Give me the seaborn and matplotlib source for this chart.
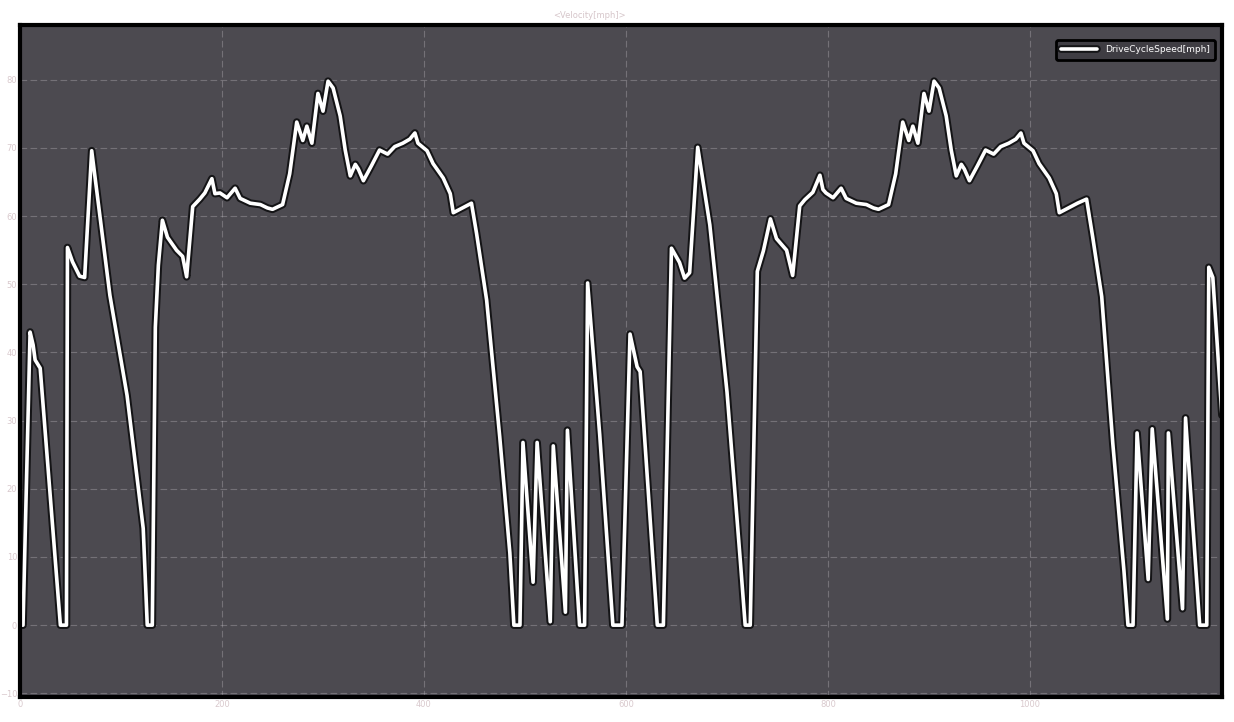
"""
Drive cycle speed trace (velocity in mph over time in seconds).
"""

import pandas as pd
import matplotlib.pyplot as plt
import matplotlib.patheffects as pe
import seaborn as sns

# time [s] and speed [mph]
time_s = [
    0, 3, 10, 13, 15, 20, 40, 46, 47, 52, 59, 64, 71, 89, 106, 122, 126, 131,
    134, 137, 141, 146, 155, 161, 165, 171, 178, 183, 190, 193, 198, 205, 213,
    218, 228, 238, 245, 250, 260, 267, 274, 280, 284, 289, 295, 300, 305, 310,
    317, 322, 327, 332, 335, 340, 348, 356, 364, 371, 379, 386, 391, 394, 403,
    409, 419, 426, 429, 447, 452, 462, 475, 485, 489, 495, 498, 508, 512, 525,
    528, 540, 542, 554, 559, 562, 574, 587, 596, 604, 611, 614, 631, 637, 645,
    653, 658, 663, 671, 683, 700, 713, 718, 723, 730, 736, 743, 749, 759, 765,
    772, 777, 785, 792, 795, 798, 805, 813, 818, 828, 838, 845, 850, 860, 867,
    874, 880, 884, 889, 895, 900, 905, 910, 917, 922, 927, 932, 935, 940, 948,
    956, 964, 971, 979, 986, 991, 994, 1003, 1009, 1019, 1026, 1029, 1047,
    1056, 1062, 1071, 1082, 1093, 1097, 1102, 1106, 1117, 1121, 1136, 1137,
    1151, 1154, 1168, 1175, 1177, 1181, 1190,
]
speed_mph = [
    0, 0, 43.0, 41.1, 38.9, 37.7, 0, 0, 55.4, 53.3, 51.2, 51.0, 69.6, 48.4,
    33.7, 14.2, 0, 0, 43.7, 52.8, 59.4, 56.9, 55.0, 54.1, 51.1, 61.4, 62.5,
    63.4, 65.5, 63.3, 63.4, 62.7, 64.1, 62.6, 61.9, 61.7, 61.2, 61.0, 61.7,
    66.2, 73.8, 71.1, 73.2, 70.7, 78.0, 75.4, 79.8, 78.8, 74.7, 69.7, 65.9,
    67.6, 66.9, 65.2, 67.4, 69.7, 69.1, 70.2, 70.7, 71.3, 72.2, 70.7, 69.6,
    67.7, 65.6, 63.3, 60.5, 61.9, 57.5, 47.7, 27.6, 10.6, 0, 0, 26.8, 6.3,
    26.8, 0.5, 26.3, 1.9, 28.6, 0, 0, 50.2, 27.9, 0, 0, 42.7, 37.9, 37.2, 0,
    0, 55.3, 53.2, 50.9, 51.7, 70.1, 58.7, 34.2, 9.8, 0, 0, 51.9, 54.9, 59.6,
    56.7, 55.0, 51.3, 61.5, 62.4, 63.5, 66.0, 63.9, 63.4, 62.7, 64.1, 62.6,
    61.9, 61.7, 61.2, 61.0, 61.7, 66.2, 73.8, 71.1, 73.2, 70.7, 78.0, 75.4,
    79.8, 78.8, 74.7, 69.7, 65.9, 67.6, 66.9, 65.2, 67.4, 69.7, 69.1, 70.2,
    70.7, 71.3, 72.2, 70.7, 69.6, 67.7, 65.6, 63.3, 60.5, 61.9, 62.5, 57.0,
    48.2, 26.6, 8.0, 0, 0, 28.2, 6.7, 28.8, 0.9, 28.2, 2.4, 30.4, 0, 0, 52.5,
    51.0, 30.8,
]
x_ticks = [0, 200, 400, 600, 800, 1000]
y_ticks = [-10, 0, 10, 20, 30, 40, 50, 60, 70, 80]

TITLE = "<Velocity[mph]>"
SERIES = "DriveCycleSpeed[mph]"


def main():
    df = pd.DataFrame({"time": time_s, "speed": speed_mph})

    sns.set_theme(style="darkgrid")
    plt.rcParams["font.family"] = ["DejaVu Sans"]

    fig = plt.figure(figsize=(12.34, 7.22), dpi=100, facecolor="white")
    ax = fig.add_axes([0.0162, 0.035, 0.974, 0.930])
    ax.set_facecolor("#4c4a50")

    sns.lineplot(data=df, x="time", y="speed", ax=ax, color="white",
                 linewidth=2.6, label=SERIES, estimator=None, sort=False)
    ax.lines[0].set_path_effects([
        pe.Stroke(linewidth=5.5, foreground="#141416"), pe.Normal()
    ])

    ax.set_xlim(0, 1190)
    ax.set_ylim(-10.5, 88)
    ax.set_xticks(x_ticks)
    ax.set_yticks(y_ticks)
    ax.tick_params(axis="both", labelsize=6, colors="#d9c9cd", length=0, pad=2)
    ax.set_xlabel("")
    ax.set_ylabel("")
    ax.grid(True, color="#c9c6cc", linewidth=0.8, linestyle=(0, (6, 3)), alpha=0.32)

    for spine in ax.spines.values():
        spine.set_visible(True)
        spine.set_color("black")
        spine.set_linewidth(3)

    fig.text(0.478, 0.985, TITLE, ha="center", va="top", fontsize=6,
             color="#d6c6ca")

    leg = ax.legend(loc="upper right", fontsize=6.5, frameon=True,
                    facecolor="#3f3d43", edgecolor="black", framealpha=1,
                    handlelength=4, borderpad=0.6, bbox_to_anchor=(0.998, 0.985))
    leg.get_frame().set_linewidth(2)
    for text in leg.get_texts():
        text.set_color("white")

    fig.savefig("out.png", dpi=100, facecolor="white")
    plt.close(fig)


if __name__ == "__main__":
    main()
